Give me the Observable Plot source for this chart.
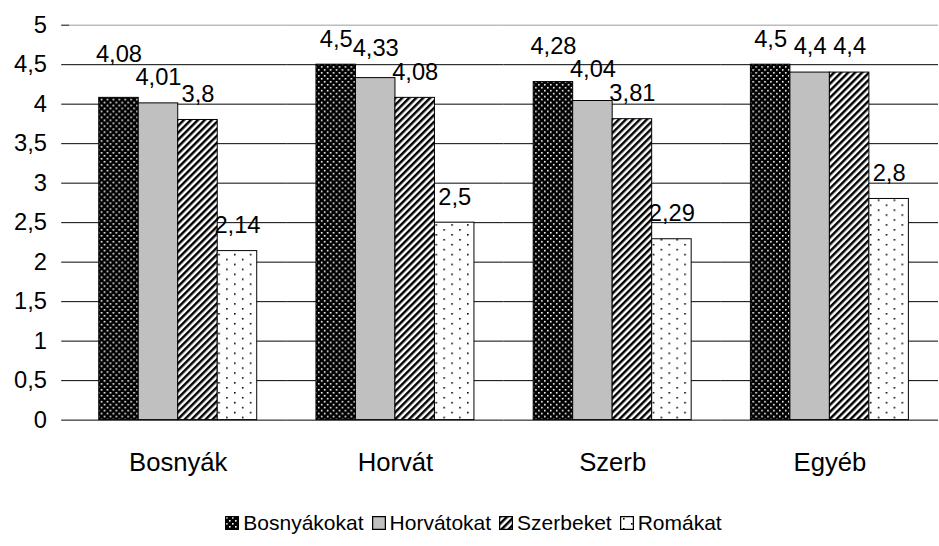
<!DOCTYPE html>
<html>
<head>
<meta charset="utf-8">
<script src="https://cdn.jsdelivr.net/npm/d3@7"></script>
<script src="https://cdn.jsdelivr.net/npm/@observablehq/plot@0.6"></script>
<style>
  html, body { margin: 0; padding: 0; background: #fff; }
  #wrap { width: 939px; height: 546px; overflow: hidden; position: relative; font-family: "Liberation Sans", Arial, sans-serif; }
  #chart { width: 939px; height: 500px; overflow: hidden; }
  #legend { width: 939px; height: 46px; display: flex; justify-content: center; align-items: center; font-size: 21px; color: #000; padding-left: 8px; box-sizing: border-box; }
  #legend .item { display: flex; align-items: center; margin: 0 4px; }
  #legend svg { margin-right: 4px; }
</style>
</head>
<body>
<svg width="0" height="0" style="position:absolute">
  <defs>
    <pattern id="p-dark" width="6" height="6" patternUnits="userSpaceOnUse">
      <rect width="6" height="6" fill="#000"/>
      <rect x="1" y="1" width="1.6" height="1.6" fill="#fff"/>
      <rect x="4" y="4" width="1.6" height="1.6" fill="#fff"/>
    </pattern>
    <pattern id="p-gray" width="4" height="4" patternUnits="userSpaceOnUse">
      <rect width="4" height="4" fill="#c0c0c0"/>
    </pattern>
    <pattern id="p-diag" width="5" height="5" patternUnits="userSpaceOnUse" patternTransform="rotate(45)">
      <rect width="5" height="5" fill="#fff"/>
      <rect width="2.5" height="5" fill="#000"/>
    </pattern>
    <pattern id="p-light" width="16" height="10" patternUnits="userSpaceOnUse">
      <rect width="16" height="10" fill="#fff"/>
      <rect x="3" y="2" width="1.6" height="1.6" fill="#000"/>
      <rect x="11" y="7" width="1.6" height="1.6" fill="#000"/>
    </pattern>
  </defs>
</svg>
<div id="wrap">
  <div id="chart"></div>
  <div id="legend"></div>
</div>
<script>
const categories = ["Bosnyák", "Horvát", "Szerb", "Egyéb"];
const seriesNames = ["Bosnyákokat", "Horvátokat", "Szerbeket", "Romákat"];
const bosnyakokat = [4.08, 4.5, 4.28, 4.5];
const horvatokat = [4.01, 4.33, 4.04, 4.4];
const szerbeket = [3.8, 4.08, 3.81, 4.4];
const romakat = [2.14, 2.5, 2.29, 2.8];
const yTicks = [0, 0.5, 1, 1.5, 2, 2.5, 3, 3.5, 4, 4.5, 5];

const seriesValues = [bosnyakokat, horvatokat, szerbeket, romakat];
const fills = ["url(#p-dark)", "url(#p-gray)", "url(#p-diag)", "url(#p-light)"];
const fmt = v => String(v).replace(".", ",");

const H = 500, MT = 25, MB = 75;
const pxPerUnit = (H - MT - MB) / 5;
const fontPx = 24;
const bandPx = (951 - 68) / categories.length;
const barPx = bandPx / (seriesNames.length + 2 * 0.725);

const rows = [];
seriesNames.forEach((s, j) => {
  categories.forEach((c, i) => {
    rows.push({category: c, series: s, si: j, value: seriesValues[j][i], fill: fills[j], label: fmt(seriesValues[j][i])});
  });
});

// simple collision avoidance for value labels (computed, right to left within a category)
const textW = t => [...t].reduce((w, ch) => w + (ch === "," ? 0.278 : 0.556) * fontPx, 0);
categories.forEach(c => {
  const group = rows.filter(r => r.category === c).sort((a, b) => b.si - a.si);
  let prev = null;
  group.forEach(r => {
    let yc = r.value * pxPerUnit + 26; // label center height above baseline, px
    if (prev) {
      const dx = (prev.si - r.si) * barPx;
      const hOverlap = dx < (textW(r.label) + textW(prev.label)) / 2;
      if (hOverlap && Math.abs(yc - prev.yc) < 22) yc = prev.yc + 24;
    }
    r.yc = yc;
    r.labelY = yc / pxPerUnit;
    prev = r;
  });
});

const chart = Plot.plot({
  width: 951,
  height: H,
  marginLeft: 68,
  marginRight: 0,
  marginTop: MT,
  marginBottom: MB,
  style: {fontFamily: "'Liberation Sans', Arial, sans-serif", fontSize: "24px", color: "#000", background: "#fff", overflow: "visible"},
  fx: {domain: categories, padding: 0, label: null},
  x: {domain: seriesNames, paddingInner: 0, paddingOuter: 0.725, axis: null},
  y: {domain: [0, 5], label: null},
  marks: [
    Plot.ruleY(yTicks.filter(d => d > 0 && d < 5), {stroke: "#000", strokeWidth: 1}),
    Plot.ruleY([5], {stroke: "#999", strokeWidth: 1}),
    Plot.barY(rows, {fx: "category", x: "series", y: "value", fill: "fill", stroke: "#000", strokeWidth: 1}),
    Plot.ruleY([0], {stroke: "#000", strokeWidth: 1}),
    Plot.axisY({ticks: yTicks, tickFormat: fmt, tickSize: 8, tickPadding: 15, fontSize: 24, line: true, label: null}),
    Plot.axisFx({anchor: "bottom", tickSize: 0, tickPadding: 33, fontSize: 26, label: null}),
    Plot.text(rows, {fx: "category", x: "series", y: "labelY", text: "label", fontSize: fontPx, fill: "#000"})
  ]
});
document.getElementById("chart").appendChild(chart);

const legend = document.getElementById("legend");
seriesNames.forEach((s, j) => {
  const item = document.createElement("span");
  item.className = "item";
  item.innerHTML = `<svg width="14" height="14"><rect x="0.5" y="0.5" width="13" height="13" fill="${fills[j]}" stroke="#000" stroke-width="1.5"/></svg><span>${s}</span>`;
  legend.appendChild(item);
});
</script>
</body>
</html>
